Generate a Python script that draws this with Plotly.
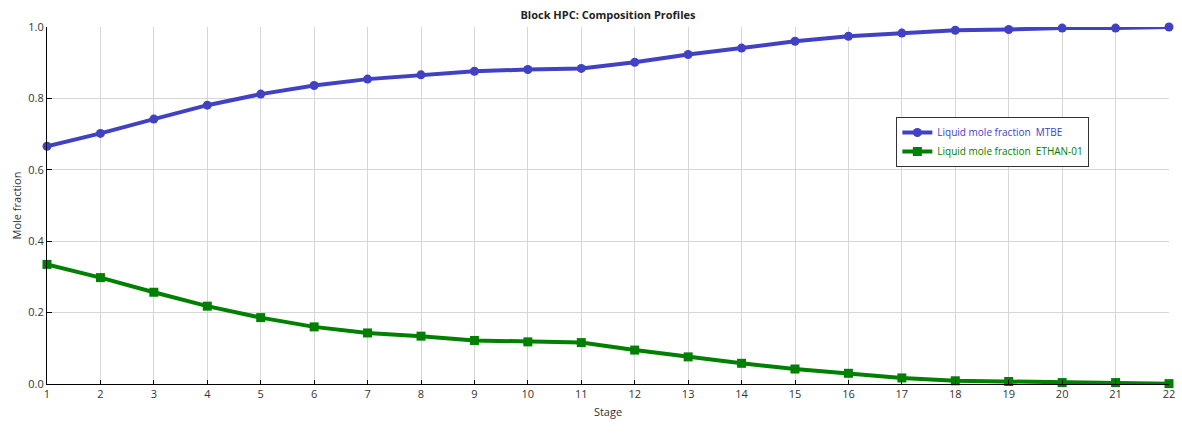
import plotly.graph_objects as go

# Stage-by-stage liquid composition profile of column HPC
stages = list(range(1, 23))
mtbe = [0.666, 0.702, 0.742, 0.781, 0.812, 0.836, 0.854, 0.866, 0.876, 0.881, 0.884,
        0.901, 0.923, 0.941, 0.960, 0.974, 0.983, 0.991, 0.993, 0.997, 0.997, 1.0]
ethanol = [0.335, 0.298, 0.257, 0.218, 0.186, 0.160, 0.143, 0.134, 0.122, 0.118, 0.116,
           0.095, 0.076, 0.058, 0.042, 0.030, 0.017, 0.009, 0.007, 0.004, 0.004, 0.001]
y_ticks = [0.0, 0.2, 0.4, 0.6, 0.8, 1.0]
y_tick_text = ["0.0", "0.2", "0.4", "0.6", "0.8", "1.0"]

BLUE = "#4141c3"
GREEN = "#008000"
FONT = "Open Sans"

fig = go.Figure()
fig.add_trace(go.Scatter(
    x=stages, y=mtbe, mode="lines+markers",
    name=f"<span style='color:{BLUE}'>Liquid mole fraction  MTBE</span>",
    line=dict(color=BLUE, width=4),
    marker=dict(symbol="circle", size=9, color=BLUE),
    cliponaxis=False,
))
fig.add_trace(go.Scatter(
    x=stages, y=ethanol, mode="lines+markers",
    name=f"<span style='color:{GREEN}'>Liquid mole fraction  ETHAN-01</span>",
    line=dict(color=GREEN, width=4),
    marker=dict(symbol="square", size=9, color=GREEN),
    cliponaxis=False,
))

fig.update_layout(
    width=1182, height=435,
    margin=dict(l=47, r=13, t=27, b=51, autoexpand=False),
    paper_bgcolor="white", plot_bgcolor="white",
    font=dict(family=FONT, size=11, color="#333333"),
    title=dict(text="<b>Block HPC: Composition Profiles</b>", x=0.5, xref="paper",
               y=1 - 15 / 435, yanchor="middle",
               font=dict(family=FONT, size=11, color="#222222")),
    legend=dict(x=0.757, y=0.748, xanchor="left", yanchor="top",
                bgcolor="white", bordercolor="#333333", borderwidth=1,
                font=dict(family=FONT, size=10), tracegroupgap=0,
                itemwidth=30),
    showlegend=True,
)
fig.update_xaxes(
    range=[1, 22], tickmode="array", tickvals=stages,
    ticktext=[str(s) for s in stages],
    showgrid=True, gridcolor="#d6d6d6", gridwidth=1,
    showline=True, linecolor="black", linewidth=1,
    ticks="inside", ticklen=4, tickcolor="black",
    zeroline=False, automargin=False,
    title=dict(text="Stage", font=dict(size=11), standoff=8),
    tickfont=dict(size=11),
)
fig.update_yaxes(
    range=[0, 1], tickmode="array", tickvals=y_ticks, ticktext=y_tick_text,
    showgrid=True, gridcolor="#d6d6d6", gridwidth=1,
    showline=True, linecolor="black", linewidth=1,
    ticks="inside", ticklen=5, tickcolor="black",
    zeroline=False, automargin=False,
    title=dict(text="Mole fraction", font=dict(size=11), standoff=4),
    tickfont=dict(size=11),
)

fig.write_html("out.html")
